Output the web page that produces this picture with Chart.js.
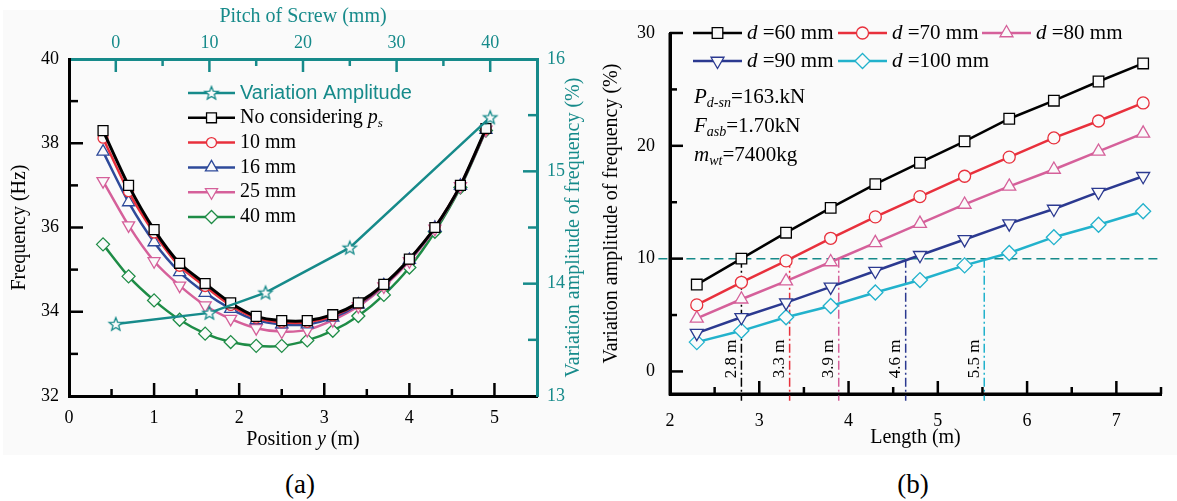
<!DOCTYPE html>
<html lang="en">
<head>
<meta charset="UTF-8">
<title>Frequency variation with screw pitch and length</title>
<script src="https://cdn.jsdelivr.net/npm/chart.js"></script>
<style>
    body { margin: 0; width: 1177px; height: 501px; background: #fff; position: relative; overflow: hidden; }
    #bg { position: absolute; left: 3px; top: 10px; width: 1174px; height: 445px; background: #fafafa; }
    canvas { position: absolute; top: 0; }
    .cap { position: absolute; top: 466px; width: 100px; text-align: center;
           font: 27px 'Liberation Serif', serif; line-height: 36px; }
</style>
</head>
<body>
<div id="bg"></div>
<canvas id="chartA" width="590" height="460" style="left:0"></canvas>
<canvas id="chartB" width="587" height="460" style="left:590px"></canvas>
<div class="cap" style="left:250px">(a)</div>
<div class="cap" style="left:863px">(b)</div>
<script>
// ---- data (a): frequency along the position, for each screw pitch
const positions = [0.4, 0.7, 1.0, 1.3, 1.6, 1.9, 2.2, 2.5, 2.8, 3.1, 3.4, 3.7, 4.0, 4.3, 4.6, 4.9];
const freqNoPitch = [38.3, 37.0, 35.95, 35.15, 34.67, 34.21, 33.89, 33.79, 33.79, 33.93, 34.21, 34.65, 35.25, 36.0, 37.0, 38.35];
const freq10 = [38.12, 36.85, 35.87, 35.08, 34.6, 34.15, 33.85, 33.75, 33.75, 33.9, 34.19, 34.64, 35.24, 36.0, 37.0, 38.33];
const freq16 = [37.8, 36.6, 35.65, 34.94, 34.45, 34.07, 33.8, 33.7, 33.7, 33.86, 34.17, 34.63, 35.23, 35.99, 36.99, 38.32];
const freq25 = [37.1, 36.05, 35.2, 34.62, 34.15, 33.83, 33.61, 33.53, 33.57, 33.8, 34.13, 34.6, 35.2, 35.97, 36.98, 38.32];
const freq40 = [35.6, 34.84, 34.27, 33.81, 33.48, 33.28, 33.19, 33.19, 33.32, 33.55, 33.9, 34.4, 35.05, 35.9, 36.95, 38.3];
const pitches = [0, 10, 16, 25, 40];
const variationAmp = [13.64, 13.74, 13.92, 14.32, 15.48];
const posTicks = [0, 1, 2, 3, 4, 5];
const pitchTicks = [0, 10, 20, 30, 40];
const freqTicks = [32, 34, 36, 38, 40];
const varTicks = [13, 14, 15, 16];

// ---- data (b): variation amplitude against length, for each diameter
const lengths = [2.3, 2.8, 3.3, 3.8, 4.3, 4.8, 5.3, 5.8, 6.3, 6.8, 7.3];
const amp60 = [7.7, 10.0, 12.3, 14.5, 16.6, 18.5, 20.4, 22.4, 24.0, 25.7, 27.3];
const amp70 = [5.9, 7.9, 9.8, 11.8, 13.7, 15.5, 17.3, 19.0, 20.7, 22.2, 23.8];
const amp80 = [4.7, 6.4, 8.0, 9.7, 11.4, 13.1, 14.8, 16.4, 17.9, 19.5, 21.1];
const amp90 = [3.4, 4.8, 6.1, 7.5, 8.9, 10.3, 11.7, 13.1, 14.4, 15.9, 17.3];
const amp100 = [2.6, 3.6, 4.8, 5.8, 7.0, 8.1, 9.4, 10.5, 11.9, 13.0, 14.2];
const limitAmp = 10;
const cutLengths = [2.8, 3.34, 3.89, 4.64, 5.52];
const cutLabels = ['2.8 m', '3.3 m', '3.9 m', '4.6 m', '5.5 m'];
const lengthTicks = [2, 3, 4, 5, 6, 7];
const ampTicks = [0, 10, 20, 30];

// ---- styles
const SERIF = "'Liberation Serif', 'Times New Roman', serif";
const SANS = "'Liberation Sans', Arial, sans-serif";
const BG = '#fafafa';
const TEAL = '#168a8a';
const RED = '#e8303c';
const BLUE = '#2e4a9a';
const PINK = '#d5609a';
const GREEN = '#1e8c46';
const NAVY = '#2b3990';
const CYAN = '#22b2cc';

Chart.defaults.font.family = SERIF;

function pts(xs, ys) {
    return xs.map((x, i) => ({ x: x, y: ys[i] }));
}

// hollow five-point star used as marker
function starImage(color) {
    const c = document.createElement('canvas');
    c.width = c.height = 18;
    const g = c.getContext('2d');
    g.beginPath();
    for (let i = 0; i < 10; i++) {
        const r = i % 2 ? 3 : 7;
        const a = -Math.PI / 2 + i * Math.PI / 5;
        g.lineTo(9 + r * Math.cos(a), 9.5 + r * Math.sin(a));
    }
    g.closePath();
    g.fillStyle = BG;
    g.fill();
    g.strokeStyle = color;
    g.lineWidth = 1.3;
    g.stroke();
    return c;
}
const star = starImage(TEAL);

// text with italic parts and subscripts
function drawRich(ctx, parts, x, y, size, color) {
    ctx.textBaseline = 'middle';
    ctx.textAlign = 'left';
    for (const p of parts) {
        const fs = p.sub ? Math.round(size * 0.66) : size;
        ctx.font = (p.it ? 'italic ' : '') + fs + 'px ' + (p.sans ? SANS : SERIF);
        ctx.fillStyle = p.color || color;
        ctx.fillText(p.t, x, y + (p.sub ? size * 0.3 : 0));
        x += ctx.measureText(p.t).width;
    }
}

function richWidth(ctx, parts, size) {
    let w = 0;
    for (const p of parts) {
        const fs = p.sub ? Math.round(size * 0.66) : size;
        ctx.font = (p.it ? 'italic ' : '') + fs + 'px ' + (p.sans ? SANS : SERIF);
        w += ctx.measureText(p.t).width;
    }
    return w;
}

// inward tick marks (major and minor) for chart (a)
function tickPlugin(name, axes) {
    return {
        id: 'inTicks' + name,
        afterDraw(chart) {
            const ctx = chart.ctx;
            for (const id in axes) {
                const cfg = axes[id];
                const s = chart.scales[id];
                ctx.save();
                ctx.strokeStyle = cfg.color;
                ctx.lineWidth = 2.5;
                for (let v = cfg.from; v <= cfg.to + 1e-9; v += cfg.step) {
                    const q = v / cfg.major;
                    const len = Math.abs(q - Math.round(q)) < 1e-6 ? cfg.len : cfg.minorLen;
                    const p = s.getPixelForValue(v);
                    ctx.beginPath();
                    if (s.isHorizontal()) {
                        const y0 = s.position === 'top' ? s.bottom : s.top;
                        const dir = s.position === 'top' ? 1 : -1;
                        ctx.moveTo(p, y0);
                        ctx.lineTo(p, y0 + dir * len);
                    } else {
                        const x0 = s.position === 'left' ? s.right : s.left;
                        const dir = s.position === 'left' ? 1 : -1;
                        ctx.moveTo(x0, p);
                        ctx.lineTo(x0 + dir * len, p);
                    }
                    ctx.stroke();
                }
                ctx.restore();
            }
        }
    };
}

// legend sample: line + marker + rich label
function legendRow(ctx, ds, x, y, lineLen, textGap, size) {
    ctx.save();
    ctx.strokeStyle = ds.borderColor;
    ctx.lineWidth = 2.5;
    ctx.beginPath();
    ctx.moveTo(x, y);
    ctx.lineTo(x + lineLen, y);
    ctx.stroke();
    ctx.fillStyle = BG;
    ctx.lineWidth = ds.pointBorderWidth;
    Chart.helpers.drawPoint(ctx, {
        pointStyle: ds.pointStyle, radius: ds.pointRadius,
        rotation: ds.pointRotation || 0, borderWidth: ds.pointBorderWidth
    }, x + lineLen / 2, y);
    drawRich(ctx, ds.rich, x + lineLen + textGap, y, size, '#000');
    ctx.restore();
}

function fixedTicks(values) {
    return function (axis) {
        axis.ticks = values.map(v => ({ value: v }));
    };
}

function tickFont(color) {
    return { font: { family: SERIF, size: 18 }, color: color };
}

// ======================= chart (a) =======================
function freqSet(label, rich, values, color, style, radius, rot) {
    return {
        label: label, rich: rich, data: pts(positions, values),
        borderColor: color, backgroundColor: BG, borderWidth: 2.5,
        pointStyle: style, pointRadius: radius, pointRotation: rot || 0,
        pointBackgroundColor: BG, pointBorderColor: color, pointBorderWidth: 1.3,
        tension: 0.25, xAxisID: 'x', yAxisID: 'y'
    };
}

const legendA = {
    id: 'legendA',
    afterDraw(chart) {
        const ctx = chart.ctx;
        chart.data.datasets.forEach((ds, i) => {
            legendRow(ctx, ds, 188, 93 + i * 24.8, 47, 5, 20);
        });
        // titles that need italics / the reading direction of the original
        const a = chart.chartArea;
        ctx.save();
        const parts = [{ t: 'Position ' }, { t: 'y', it: true }, { t: ' (m)' }];
        const w = richWidth(ctx, parts, 20);
        drawRich(ctx, parts, (a.left + a.right) / 2 - w / 2, 440, 20, '#000');
        ctx.translate(574, (a.top + a.bottom) / 2);
        ctx.rotate(-Math.PI / 2);
        ctx.font = '20px ' + SERIF;
        ctx.fillStyle = TEAL;
        ctx.textAlign = 'center';
        ctx.textBaseline = 'middle';
        ctx.fillText('Variation amplitude of frequency (%)', 0, 0);
        ctx.restore();
    }
};

new Chart(document.getElementById('chartA'), {
    type: 'line',
    data: {
        datasets: [
            {
                label: 'Variation Amplitude', rich: [{ t: 'Variation Amplitude', sans: true, color: TEAL }],
                data: pts(pitches, variationAmp), borderColor: TEAL, backgroundColor: BG, borderWidth: 2.5,
                pointStyle: star, pointRadius: 7, pointBorderWidth: 1.3, pointBorderColor: TEAL,
                tension: 0, xAxisID: 'x2', yAxisID: 'y2'
            },
            Object.assign(freqSet('No considering ps', [{ t: 'No considering ' }, { t: 'p', it: true }, { t: 's', it: true, sub: true }],
                freqNoPitch, '#000', 'rect', 7), { borderWidth: 3 }),
            freqSet('10 mm', [{ t: '10 mm' }], freq10, RED, 'circle', 5),
            freqSet('16 mm', [{ t: '16 mm' }], freq16, BLUE, 'triangle', 7),
            freqSet('25 mm', [{ t: '25 mm' }], freq25, PINK, 'triangle', 7, 180),
            freqSet('40 mm', [{ t: '40 mm' }], freq40, GREEN, 'rectRot', 6.5)
        ]
    },
    options: {
        responsive: false,
        animation: false,
        layout: { padding: 0 },
        plugins: { legend: { display: false }, tooltip: { enabled: false } },
        scales: {
            x: {
                type: 'linear', position: 'bottom', min: 0, max: 5.5,
                grid: { display: false, drawTicks: false },
                border: { display: true, color: '#000', width: 3 },
                ticks: Object.assign({ padding: 11 }, tickFont('#000')),
                afterBuildTicks: fixedTicks(posTicks),
                afterFit: s => { s.height = 64; }
            },
            x2: {
                type: 'linear', position: 'top', min: -5, max: 45,
                grid: { display: false, drawTicks: false },
                border: { display: true, color: TEAL, width: 3 },
                ticks: Object.assign({ padding: 5 }, tickFont(TEAL)),
                afterBuildTicks: fixedTicks(pitchTicks),
                title: { display: true, text: 'Pitch of Screw (mm)', color: TEAL,
                         font: { family: SERIF, size: 20 }, padding: { top: 5, bottom: 0 } },
                afterFit: s => { s.height = 59; }
            },
            y: {
                type: 'linear', position: 'left', min: 32, max: 40,
                grid: { display: false, drawTicks: false },
                border: { display: true, color: '#000', width: 3 },
                ticks: Object.assign({ padding: 10 }, tickFont('#000')),
                afterBuildTicks: fixedTicks(freqTicks),
                title: { display: true, text: 'Frequency (Hz)', color: '#000',
                         font: { family: SERIF, size: 20 }, padding: { top: 8, bottom: 0 } },
                afterFit: s => { s.width = 69; }
            },
            y2: {
                type: 'linear', position: 'right', min: 13, max: 16,
                grid: { display: false, drawTicks: false },
                border: { display: true, color: TEAL, width: 3 },
                ticks: Object.assign({ padding: 10 }, tickFont(TEAL)),
                afterBuildTicks: fixedTicks(varTicks),
                afterFit: s => { s.width = 53; }
            }
        }
    },
    plugins: [
        tickPlugin('A', {
            x: { from: 0.5, to: 5, step: 0.5, major: 1, len: 13, minorLen: 7, color: '#000' },
            x2: { from: 0, to: 40, step: 5, major: 10, len: 13, minorLen: 7, color: TEAL },
            y: { from: 33, to: 39, step: 1, major: 2, len: 14, minorLen: 9, color: '#000' },
            y2: { from: 13.5, to: 15.5, step: 0.5, major: 1, len: 14, minorLen: 9, color: TEAL }
        }),
        legendA
    ]
});

// ======================= chart (b) =======================
function ampSet(d, values, color, style, radius, rot) {
    return {
        label: 'd =' + d + ' mm', rich: [{ t: 'd', it: true }, { t: ' =' + d + ' mm' }],
        data: pts(lengths, values),
        borderColor: color, backgroundColor: BG, borderWidth: 2.5,
        pointStyle: style, pointRadius: radius, pointRotation: rot || 0,
        pointBackgroundColor: BG, pointBorderColor: color, pointBorderWidth: 1.3,
        tension: 0
    };
}

const ampSets = [
    ampSet(60, amp60, '#000', 'rect', 7.5),
    ampSet(70, amp70, RED, 'circle', 6),
    ampSet(80, amp80, PINK, 'triangle', 7.5),
    ampSet(90, amp90, NAVY, 'triangle', 7.5, 180),
    ampSet(100, amp100, CYAN, 'rectRot', 7.5)
];
const cutColors = ['#000', RED, PINK, NAVY, CYAN];

// 10 % limit and the lengths where each curve reaches it
const refSets = [{
    label: 'limit', data: [{ x: 1.87, y: limitAmp }, { x: 7.5, y: limitAmp }],
    borderColor: TEAL, backgroundColor: BG, borderWidth: 1.5, borderDash: [9, 5], pointRadius: 0, clip: false
}].concat(cutLengths.map((L, i) => ({
    label: cutLabels[i], data: [{ x: L, y: limitAmp }, { x: L, y: -2.6 }],
    borderColor: cutColors[i], backgroundColor: BG, borderWidth: 1.5, borderDash: [9, 3, 2, 3],
    pointRadius: 0, clip: false
})));

// axis lines and inward ticks of (b), placed through the scales' value mapping
function drawFrameB(chart) {
    const ctx = chart.ctx;
    const xs = chart.scales.x, ys = chart.scales.y;
    const xLeft = xs.getPixelForValue(2), xRight = xs.getPixelForValue(7.5);
    const yBottom = ys.getPixelForValue(-2), yTop = ys.getPixelForValue(30);
    ctx.save();
    ctx.setLineDash([]);
    ctx.globalAlpha = 1;
    ctx.strokeStyle = '#000';
    ctx.lineWidth = 3;
    ctx.beginPath();
    ctx.moveTo(xLeft, yTop);
    ctx.lineTo(xLeft, yBottom);
    ctx.lineTo(xRight, yBottom);
    ctx.stroke();
    ctx.lineWidth = 2.5;
    for (let v = 2.5; v <= 7.5 + 1e-9; v += 0.5) {
        const len = Math.abs(v - Math.round(v)) < 1e-6 ? 13 : 7;
        const p = xs.getPixelForValue(v);
        ctx.beginPath();
        ctx.moveTo(p, yBottom);
        ctx.lineTo(p, yBottom - len);
        ctx.stroke();
    }
    for (let v = 0; v <= 30 + 1e-9; v += 5) {
        const len = v % 10 === 0 ? 13 : 7;
        const p = ys.getPixelForValue(v);
        ctx.beginPath();
        ctx.moveTo(xLeft, p);
        ctx.lineTo(xLeft + len, p);
        ctx.stroke();
    }
    ctx.restore();
}

const legendB = {
    id: 'legendB',
    afterDraw(chart) {
        const ctx = chart.ctx;
        const slots = [[103, 33], [248, 33], [392, 33], [103, 61], [248, 61]];
        ctx.save();
        chart.data.datasets.slice(0, ampSets.length).forEach((ds, i) => legendRow(ctx, ds, slots[i][0], slots[i][1], 49, 5, 21));
        drawRich(ctx, [{ t: 'P', it: true }, { t: 'd-sn', it: true, sub: true }, { t: '=163.kN' }], 104, 97, 21, '#000');
        drawRich(ctx, [{ t: 'F', it: true }, { t: 'asb', it: true, sub: true }, { t: '=1.70kN' }], 104, 126, 21, '#000');
        drawRich(ctx, [{ t: 'm', it: true }, { t: 'wt', it: true, sub: true }, { t: '=7400kg' }], 104, 155, 21, '#000');
        // rotated labels of the cut lengths
        const xs = chart.scales.x, ys = chart.scales.y;
        ctx.font = '17px ' + SERIF;
        ctx.fillStyle = '#000';
        ctx.textAlign = 'left';
        ctx.textBaseline = 'middle';
        cutLengths.forEach((L, i) => {
            ctx.save();
            ctx.translate(xs.getPixelForValue(L) - 10, ys.getPixelForValue(-0.6));
            ctx.rotate(-Math.PI / 2);
            ctx.fillText(cutLabels[i], 0, 0);
            ctx.restore();
        });
        ctx.restore();
        drawFrameB(chart);
    }
};

new Chart(document.getElementById('chartB'), {
    type: 'line',
    data: { datasets: ampSets.concat(refSets) },
    options: {
        responsive: false,
        animation: false,
        layout: { padding: { top: 33, right: 16, left: 0, bottom: 0 } },
        plugins: { legend: { display: false }, tooltip: { enabled: false } },
        scales: {
            x: {
                type: 'linear', position: 'bottom', min: 2, max: 7.5,
                grid: { display: false, drawTicks: false },
                border: { display: true, color: '#000', width: 3 },
                ticks: Object.assign({ padding: 16 }, tickFont('#000')),
                afterBuildTicks: fixedTicks(lengthTicks),
                title: { display: true, text: 'Length (m)', color: '#000',
                         font: { family: SERIF, size: 20 }, padding: { top: 0, bottom: 10 } },
                afterFit: s => { s.height = 66; }
            },
            y: {
                type: 'linear', position: 'left', min: -2, max: 30,
                grid: { display: false, drawTicks: false },
                border: { display: true, color: '#000', width: 3 },
                ticks: Object.assign({ padding: 15 }, tickFont('#000')),
                afterBuildTicks: fixedTicks(ampTicks),
                title: { display: true, text: 'Variation amplitude of frequency (%)', color: '#000',
                         font: { family: SERIF, size: 20 }, padding: { top: 10, bottom: 0 } },
                afterFit: s => { s.width = 80; }
            }
        }
    },
    plugins: [legendB]
});
</script>
</body>
</html>
